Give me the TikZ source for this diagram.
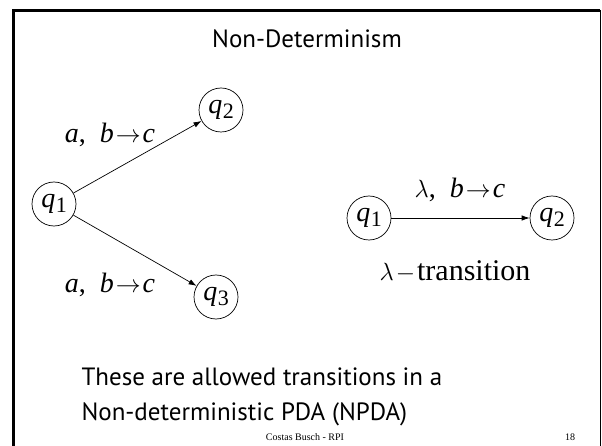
\documentclass[tikz,border=0pt]{standalone}
\usepackage{fontspec}
\setmainfont{Liberation Serif}
\setsansfont{PT Sans}
\usetikzlibrary{arrows.meta}

\newcommand{\stname}[1]{\textit{q}\kern0.5pt\raisebox{-0.35ex}{\fontsize{22}{22}\selectfont #1}}
\newcommand{\goesto}{\kern2pt$\rightarrow$\kern2pt}

\begin{document}
\begin{tikzpicture}[x=1pt,y=-1pt,
    state/.style={draw, circle, minimum size=44pt, inner sep=0pt, line width=0.7pt, font=\fontsize{28}{28}\selectfont},
    trans/.style={-{Latex[length=8pt,width=5.5pt]}, line width=0.7pt},
    lbl/.style={font=\fontsize{28}{28}\selectfont, anchor=base},
    slidetext/.style={font=\sffamily\fontsize{25}{30}\selectfont, anchor=base west}]
    \useasboundingbox (0,0) rectangle (602,446);

    % Draw frame
    \draw[line width=3pt] (13.5,446) -- (13.5,10.5) -- (600,10.5);
    \draw[line width=1pt] (600.5,10) -- (600.5,446);

    % Title
    \node[font=\sffamily\fontsize{25}{30}\selectfont, anchor=base] (title) at (307,48) {Non-Determinism};

    % Draw states (left)
    \node[state] (q1) at (54,204) {\stname{1}};
    \node[state] (q2) at (221,110) {\stname{2}};
    \node[state] (q3) at (216,297) {\stname{3}};

    % Draw states (right)
    \node[state] (p1) at (369,218) {\stname{1}};
    \node[state] (p2) at (552,218) {\stname{2}};

    % Draw transitions
    \draw[trans] (q1) -- (q2);
    \draw[trans] (q1) -- (q3);
    \draw[trans] (p1) -- (p2);

    % Labels
    \node[lbl] (up) at (110,143) {\textit{a},\ \ \textit{b}\goesto\textit{c}};
    \node[lbl] (down) at (110,292) {\textit{a},\ \ \textit{b}\goesto\textit{c}};
    \node[lbl] (lam) at (460,198) {$\lambda$,\ \ \textit{b}\goesto\textit{c}};
    \node[lbl, font=\fontsize{30}{30}\selectfont] (lamtext) at (455,280) {$\lambda$\kern2pt$-$\kern2pt transition};

    % Slide text
    \node[slidetext] (line1) at (78,385) {These are allowed transitions in a};
    \node[slidetext] (line2) at (78,420) {Non-deterministic PDA (NPDA)};

    % Footer
    \node[font=\fontsize{10}{10}\selectfont, anchor=base] (foot) at (305,440) {Costas Busch - RPI};
    \node[font=\fontsize{10}{10}\selectfont, anchor=base] (page) at (570,440) {18};
\end{tikzpicture}
\end{document}
